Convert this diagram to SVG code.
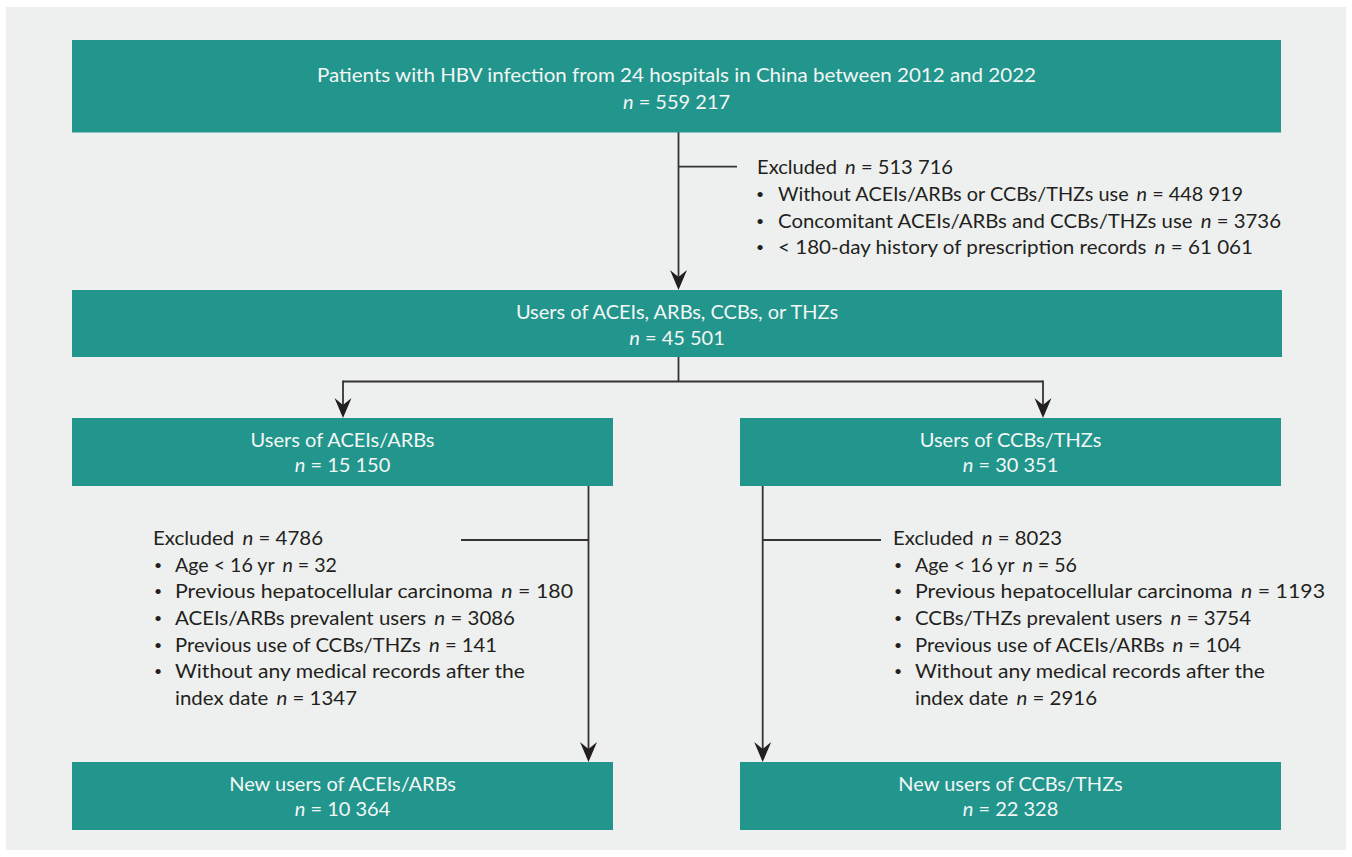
<svg xmlns="http://www.w3.org/2000/svg" width="1352" height="857" viewBox="0 0 1352 857">
<defs>
<style>
.bg{fill:#eef0ef}
.box{fill:#22958c}
.bt{font-family:"Lato","Liberation Sans",sans-serif;font-size:20px;fill:#f2f7f6;text-anchor:middle}
.lt{font-family:"Lato","Liberation Sans",sans-serif;font-size:20px;fill:#231f20}
.bl{font-family:"Lato","Liberation Sans",sans-serif;font-size:14px;fill:#231f20}
.i{font-style:italic}
.ln{fill:none;stroke:#333;stroke-width:1.8}
</style>
<marker id="ah" viewBox="-20 -9 20 18" markerWidth="20" markerHeight="18" refX="-12" refY="0" orient="auto" markerUnits="userSpaceOnUse">
<path d="M0,0 L-20,-8.5 L-13,0 L-20,8.5 Z" fill="#231f20"/>
</marker>
</defs>
<rect x="0" y="0" width="1352" height="857" fill="#fff"/>
<rect class="bg" x="6" y="7" width="1340" height="843"/>

<g id="connectors">
<path class="ln" d="M678.5,132 V278" marker-end="url(#ah)"/>
<path class="ln" d="M678.5,166.7 H737"/>
<path class="ln" d="M678.5,357 V381.5 M343,381.5 H1043"/>
<path class="ln" d="M343,380.6 V406" marker-end="url(#ah)"/>
<path class="ln" d="M1043,380.6 V406" marker-end="url(#ah)"/>
<path class="ln" d="M588.5,486 V750" marker-end="url(#ah)"/>
<path class="ln" d="M461,540 H588.5"/>
<path class="ln" d="M762.7,486 V750" marker-end="url(#ah)"/>
<path class="ln" d="M762.7,540 H881"/>
</g>

<g id="n-all">
<rect class="box" x="72" y="40" width="1209" height="92.5"/>
<text class="bt" x="676.5" y="82" textLength="719" lengthAdjust="spacingAndGlyphs">Patients with HBV infection from 24 hospitals in China between 2012 and 2022</text>
<text class="bt" x="676.5" y="108.5"><tspan class="i">n</tspan> = 559 217</text>
</g>

<g id="excl-1">
<text class="lt" x="757" y="174" textLength="196" lengthAdjust="spacingAndGlyphs">Excluded<tspan class="i" dx="8">n</tspan> = 513 716</text>
<text class="bl" x="756" y="199">•</text>
<text class="lt" x="778" y="201" textLength="465" lengthAdjust="spacingAndGlyphs">Without ACEIs/ARBs or CCBs/THZs use<tspan class="i" dx="8">n</tspan> = 448 919</text>
<text class="bl" x="756" y="225.7">•</text>
<text class="lt" x="778" y="227.7" textLength="503" lengthAdjust="spacingAndGlyphs">Concomitant ACEIs/ARBs and CCBs/THZs use<tspan class="i" dx="8">n</tspan> = 3736</text>
<text class="bl" x="756" y="252.3">•</text>
<text class="lt" x="778" y="254.3" textLength="475" lengthAdjust="spacingAndGlyphs">&lt; 180-day history of prescription records<tspan class="i" dx="8">n</tspan> = 61 061</text>
</g>

<g id="n-users">
<rect class="box" x="72" y="290" width="1210" height="67"/>
<text class="bt" x="677" y="319">Users of ACEIs, ARBs, CCBs, or THZs</text>
<text class="bt" x="677" y="345"><tspan class="i">n</tspan> = 45 501</text>
</g>

<g id="n-acei">
<rect class="box" x="72" y="418" width="541" height="68"/>
<text class="bt" x="342.5" y="447">Users of ACEIs/ARBs</text>
<text class="bt" x="342.5" y="472"><tspan class="i">n</tspan> = 15 150</text>
</g>

<g id="n-ccb">
<rect class="box" x="740" y="418" width="541" height="68"/>
<text class="bt" x="1010.5" y="447">Users of CCBs/THZs</text>
<text class="bt" x="1010.5" y="472"><tspan class="i">n</tspan> = 30 351</text>
</g>

<g id="excl-acei">
<text class="lt" x="153" y="545" textLength="170" lengthAdjust="spacingAndGlyphs">Excluded<tspan class="i" dx="8">n</tspan> = 4786</text>
<text class="bl" x="154" y="569.7">•</text>
<text class="lt" x="175" y="571.7" textLength="162" lengthAdjust="spacingAndGlyphs">Age &lt; 16 yr<tspan class="i" dx="8">n</tspan> = 32</text>
<text class="bl" x="154" y="596.3">•</text>
<text class="lt" x="175" y="598.3" textLength="398" lengthAdjust="spacingAndGlyphs">Previous hepatocellular carcinoma<tspan class="i" dx="8">n</tspan> = 180</text>
<text class="bl" x="154" y="623">•</text>
<text class="lt" x="175" y="625" textLength="340" lengthAdjust="spacingAndGlyphs">ACEIs/ARBs prevalent users<tspan class="i" dx="8">n</tspan> = 3086</text>
<text class="bl" x="154" y="649.7">•</text>
<text class="lt" x="175" y="651.7" textLength="322" lengthAdjust="spacingAndGlyphs">Previous use of CCBs/THZs<tspan class="i" dx="8">n</tspan> = 141</text>
<text class="bl" x="154" y="676.3">•</text>
<text class="lt" x="175" y="678.3" textLength="350" lengthAdjust="spacingAndGlyphs">Without any medical records after the</text>
<text class="lt" x="175" y="705" textLength="182" lengthAdjust="spacingAndGlyphs">index date<tspan class="i" dx="8">n</tspan> = 1347</text>
</g>

<g id="excl-ccb">
<text class="lt" x="893" y="545" textLength="169" lengthAdjust="spacingAndGlyphs">Excluded<tspan class="i" dx="8">n</tspan> = 8023</text>
<text class="bl" x="894" y="569.7">•</text>
<text class="lt" x="915" y="571.7" textLength="162" lengthAdjust="spacingAndGlyphs">Age &lt; 16 yr<tspan class="i" dx="8">n</tspan> = 56</text>
<text class="bl" x="894" y="596.3">•</text>
<text class="lt" x="915" y="598.3" textLength="410" lengthAdjust="spacingAndGlyphs">Previous hepatocellular carcinoma<tspan class="i" dx="8">n</tspan> = 1193</text>
<text class="bl" x="894" y="623">•</text>
<text class="lt" x="915" y="625" textLength="336" lengthAdjust="spacingAndGlyphs">CCBs/THZs prevalent users<tspan class="i" dx="8">n</tspan> = 3754</text>
<text class="bl" x="894" y="649.7">•</text>
<text class="lt" x="915" y="651.7" textLength="326" lengthAdjust="spacingAndGlyphs">Previous use of ACEIs/ARBs<tspan class="i" dx="8">n</tspan> = 104</text>
<text class="bl" x="894" y="676.3">•</text>
<text class="lt" x="915" y="678.3" textLength="350" lengthAdjust="spacingAndGlyphs">Without any medical records after the</text>
<text class="lt" x="915" y="705" textLength="182" lengthAdjust="spacingAndGlyphs">index date<tspan class="i" dx="8">n</tspan> = 2916</text>
</g>

<g id="n-new-acei">
<rect class="box" x="72" y="762" width="541" height="68"/>
<text class="bt" x="342.5" y="791">New users of ACEIs/ARBs</text>
<text class="bt" x="342.5" y="816"><tspan class="i">n</tspan> = 10 364</text>
</g>

<g id="n-new-ccb">
<rect class="box" x="740" y="762" width="541" height="68"/>
<text class="bt" x="1010.5" y="791">New users of CCBs/THZs</text>
<text class="bt" x="1010.5" y="816"><tspan class="i">n</tspan> = 22 328</text>
</g>
</svg>
